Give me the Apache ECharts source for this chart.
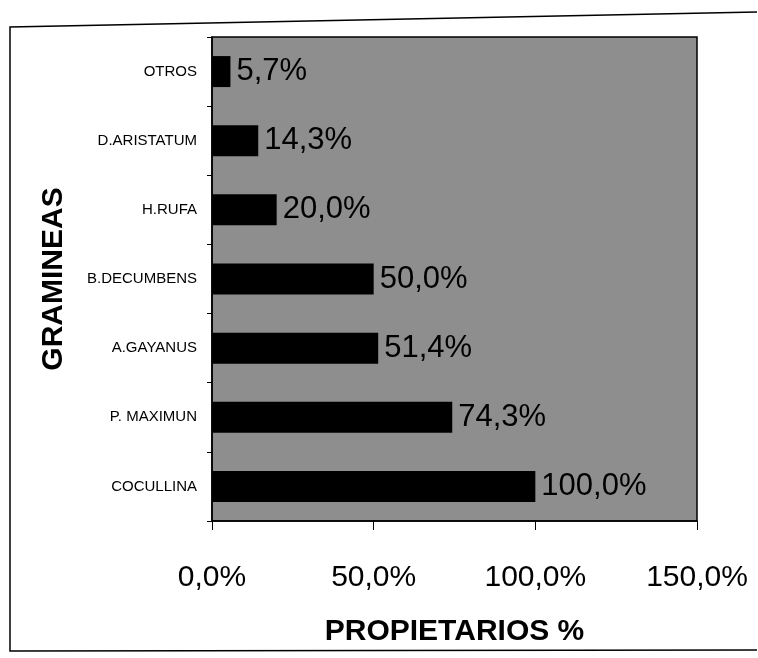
<!DOCTYPE html>
<html>
<head>
<meta charset="utf-8">
<script src="https://cdn.jsdelivr.net/npm/echarts@6/dist/echarts.min.js"></script>
<style>html,body{margin:0;padding:0;background:#fff;}#c{width:758px;height:658px;}</style>
</head>
<body>
<div id="c"></div>
<script>
const categories = ['COCULLINA', 'P. MAXIMUN', 'A.GAYANUS', 'B.DECUMBENS', 'H.RUFA', 'D.ARISTATUM', 'OTROS'];
const values = [100.0, 74.3, 51.4, 50.0, 20.0, 14.3, 5.7];
const xTicks = [0, 50, 100, 150];
const xTitle = 'PROPIETARIOS %';
const yTitle = 'GRAMINEAS';

const fmt = v => v.toFixed(1).replace('.', ',') + '%';
const chart = echarts.init(document.getElementById('c'), null, {renderer: 'canvas'});
chart.setOption({
  animation: false,
  backgroundColor: '#ffffff',
  grid: {left: 212, right: 61, top: 37, bottom: 137, show: true, backgroundColor: '#8e8e8e', borderColor: '#000', borderWidth: 1.5},
  graphic: [
    {type: 'polyline', shape: {points: [[757, 12], [10, 27], [10, 651], [757, 650]]}, style: {stroke: '#000', lineWidth: 1.5, fill: null}, silent: true}
  ],
  xAxis: {
    type: 'value', min: xTicks[0], max: xTicks[xTicks.length - 1], interval: 50,
    name: xTitle, nameLocation: 'middle', nameGap: 96,
    nameTextStyle: {fontFamily: 'Liberation Sans, Arial', fontWeight: 'bold', fontSize: 30, color: '#000'},
    axisLine: {show: true, lineStyle: {color: '#000', width: 1.5}},
    axisTick: {show: true, length: 9, lineStyle: {color: '#000'}},
    splitLine: {show: false},
    axisLabel: {formatter: v => fmt(v), fontFamily: 'Liberation Sans, Arial', fontSize: 30, color: '#000', margin: 42}
  },
  yAxis: {
    type: 'category', data: categories,
    name: yTitle, nameLocation: 'middle', nameGap: 143, nameRotate: 90,
    nameTextStyle: {fontFamily: 'Liberation Sans, Arial', fontWeight: 'bold', fontSize: 30, color: '#000'},
    axisLine: {show: true, lineStyle: {color: '#000', width: 1.5}},
    axisTick: {show: true, length: 5, lineStyle: {color: '#000'}},
    axisLabel: {fontFamily: 'Liberation Sans, Arial', fontSize: 15, color: '#000', margin: 15}
  },
  series: [{
    type: 'bar', data: values, barWidth: 31,
    itemStyle: {color: '#000'},
    label: {show: true, position: 'right', distance: 6, formatter: p => fmt(p.value),
      fontFamily: 'Liberation Sans, Arial', fontSize: 31, color: '#000'}
  }]
});
</script>
</body>
</html>
